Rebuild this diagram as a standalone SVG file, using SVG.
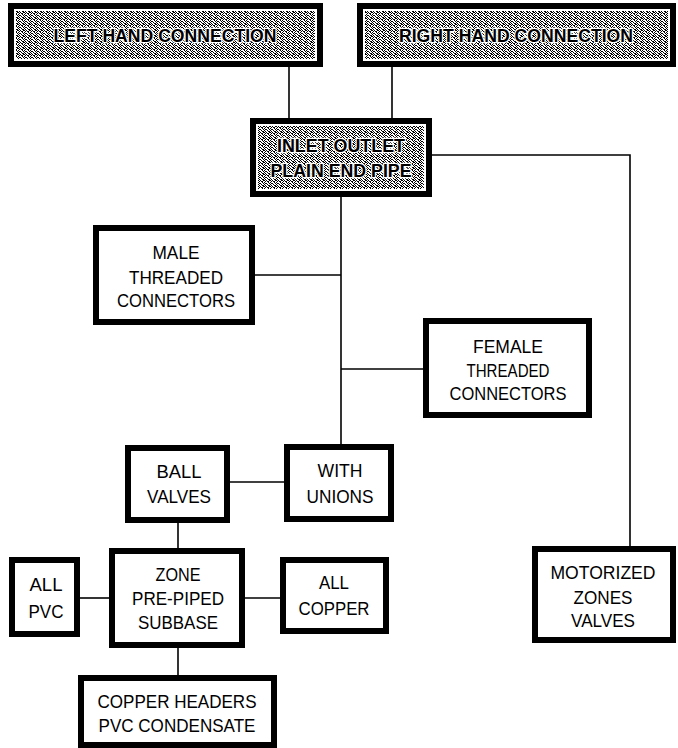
<svg xmlns="http://www.w3.org/2000/svg" width="678" height="748" viewBox="0 0 678 748">
<defs>
<pattern id="dither" width="6" height="6" patternUnits="userSpaceOnUse">
<rect width="6" height="6" fill="#ffffff"/>
<path fill="#000" d="M0 0h1v1h-1z M2 0h1v1h-1z M5 0h1v1h-1z M1 1h1v1h-1z M3 1h2v1h-2z M0 2h1v1h-1z M4 2h1v1h-1z M1 3h2v1h-2z M5 3h1v1h-1z M0 4h1v1h-1z M3 4h1v1h-1z M1 5h1v1h-1z M4 5h2v1h-2z"/>
</pattern>
<style>
.box{fill:#fff;stroke:#000;stroke-width:6}
.hbox{fill:#fff;stroke:#000;stroke-width:6}
.hatch{fill:url(#dither)}
.t{font-family:"Liberation Sans",Arial,sans-serif;font-size:18px;fill:#000;text-anchor:middle}
.ht{font-family:"Liberation Sans",Arial,sans-serif;font-size:19px;font-weight:bold;fill:#000;text-anchor:middle;stroke:#fff;stroke-width:2.5;paint-order:stroke}
.c{fill:none;stroke:#000;stroke-width:1.6}
</style>
</defs>
<rect width="678" height="748" fill="#fff"/>
<g id="connectors">
<path class="c" d="M289 67 V118"/>
<path class="c" d="M392 67 V118"/>
<path class="c" d="M431 155 H630 V546"/>
<path class="c" d="M341 197 V444"/>
<path class="c" d="M255 275 H341"/>
<path class="c" d="M341 369 H423"/>
<path class="c" d="M230 482 H284"/>
<path class="c" d="M178 523 V548"/>
<path class="c" d="M80 598 H109"/>
<path class="c" d="M245 598 H280"/>
<path class="c" d="M178 648 V675"/>
</g>
<g id="left-hand">
<rect class="hbox" x="11" y="6" width="309" height="58"/>
<rect class="hatch" x="16" y="11" width="299" height="48"/>
<text class="ht" x="165" y="42" textLength="223" lengthAdjust="spacingAndGlyphs">LEFT HAND CONNECTION</text>
</g>
<g id="right-hand">
<rect class="hbox" x="360" y="6" width="313" height="58"/>
<rect class="hatch" x="365" y="11" width="303" height="48"/>
<text class="ht" x="516" y="42" textLength="234" lengthAdjust="spacingAndGlyphs">RIGHT HAND CONNECTION</text>
</g>
<g id="inlet-outlet">
<rect class="hbox" x="253" y="121" width="176" height="73"/>
<rect class="hatch" x="258" y="126" width="166" height="63"/>
<text class="ht" x="341" y="152" textLength="128" lengthAdjust="spacingAndGlyphs">INLET OUTLET</text>
<text class="ht" x="341" y="177" textLength="141" lengthAdjust="spacingAndGlyphs">PLAIN END PIPE</text>
</g>
<g id="male">
<rect class="box" x="96" y="228" width="156" height="94"/>
<text class="t" x="176" y="259" textLength="47" lengthAdjust="spacingAndGlyphs">MALE</text>
<text class="t" x="176" y="284" textLength="94" lengthAdjust="spacingAndGlyphs">THREADED</text>
<text class="t" x="176" y="307" textLength="118" lengthAdjust="spacingAndGlyphs">CONNECTORS</text>
</g>
<g id="female">
<rect class="box" x="426" y="321" width="163" height="94"/>
<text class="t" x="508" y="353" textLength="70" lengthAdjust="spacingAndGlyphs">FEMALE</text>
<text class="t" x="508" y="377" textLength="83" lengthAdjust="spacingAndGlyphs">THREADED</text>
<text class="t" x="508" y="400" textLength="117" lengthAdjust="spacingAndGlyphs">CONNECTORS</text>
</g>
<g id="ball-valves">
<rect class="box" x="128" y="448" width="99" height="72"/>
<text class="t" x="179" y="478" textLength="45" lengthAdjust="spacingAndGlyphs">BALL</text>
<text class="t" x="179" y="503" textLength="64" lengthAdjust="spacingAndGlyphs">VALVES</text>
</g>
<g id="with-unions">
<rect class="box" x="287" y="447" width="104" height="72"/>
<text class="t" x="340" y="477" textLength="45" lengthAdjust="spacingAndGlyphs">WITH</text>
<text class="t" x="340" y="503" textLength="67" lengthAdjust="spacingAndGlyphs">UNIONS</text>
</g>
<g id="zone-subbase">
<rect class="box" x="112" y="551" width="130" height="94"/>
<text class="t" x="178" y="581" textLength="45" lengthAdjust="spacingAndGlyphs">ZONE</text>
<text class="t" x="178" y="605" textLength="92" lengthAdjust="spacingAndGlyphs">PRE-PIPED</text>
<text class="t" x="178" y="629" textLength="80" lengthAdjust="spacingAndGlyphs">SUBBASE</text>
</g>
<g id="all-pvc">
<rect class="box" x="12" y="560" width="65" height="74"/>
<text class="t" x="46" y="591" textLength="33" lengthAdjust="spacingAndGlyphs">ALL</text>
<text class="t" x="46" y="618" textLength="35" lengthAdjust="spacingAndGlyphs">PVC</text>
</g>
<g id="all-copper">
<rect class="box" x="283" y="560" width="103" height="71"/>
<text class="t" x="334" y="589" textLength="30" lengthAdjust="spacingAndGlyphs">ALL</text>
<text class="t" x="334" y="615" textLength="71" lengthAdjust="spacingAndGlyphs">COPPER</text>
</g>
<g id="motorized">
<rect class="box" x="535" y="549" width="138" height="91"/>
<text class="t" x="603" y="579" textLength="105" lengthAdjust="spacingAndGlyphs">MOTORIZED</text>
<text class="t" x="603" y="604" textLength="59" lengthAdjust="spacingAndGlyphs">ZONES</text>
<text class="t" x="603" y="627" textLength="64" lengthAdjust="spacingAndGlyphs">VALVES</text>
</g>
<g id="copper-headers">
<rect class="box" x="81" y="678" width="193" height="67"/>
<text class="t" x="177" y="708" textLength="159" lengthAdjust="spacingAndGlyphs">COPPER HEADERS</text>
<text class="t" x="177" y="732" textLength="157" lengthAdjust="spacingAndGlyphs">PVC CONDENSATE</text>
</g>
</svg>
